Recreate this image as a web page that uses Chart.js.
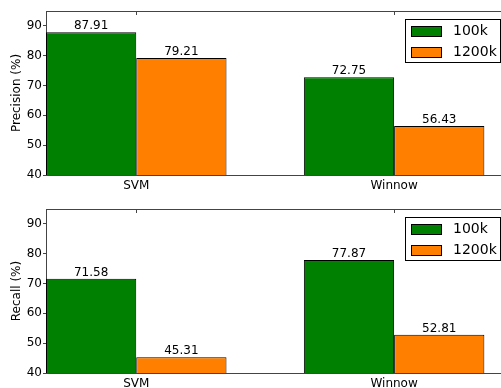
<!DOCTYPE html>
<html>
<head>
<meta charset="utf-8">
<title>Precision and recall: SVM vs Winnow</title>
<script src="https://cdn.jsdelivr.net/npm/chart.js@4/dist/chart.umd.min.js"></script>
<style>
  html, body { margin: 0; padding: 0; background: #fff; width: 501px; height: 388px; overflow: hidden; position: relative; }
  .panel { position: absolute; left: 0; width: 540px; height: 194px; }
  #panelPrecision { top: 0; }
  #panelRecall { top: 194px; }
</style>
</head>
<body>
<div class="panel" id="panelPrecision"><canvas id="precisionChart" width="540" height="194"></canvas></div>
<div class="panel" id="panelRecall"><canvas id="recallChart" width="540" height="194"></canvas></div>
<script>
// ---- data ----
const categories = ['SVM', 'Winnow'];
const seriesLabels = ['100k', '1200k'];
const precision100k = [87.91, 72.75];
const precision1200k = [79.21, 56.43];
const recall100k = [71.58, 77.87];
const recall1200k = [45.31, 52.81];
const yTickValues = [40, 50, 60, 70, 80, 90];
const yMin = 40;
const yMax = 95;

// ---- layout / style ----
const BAR_W = 0.35;            // width of one bar in category units
const X_MAX = 1.78;            // x range shown: [0, X_MAX]
const groupCenter = i => i + BAR_W;   // tick sits between the two bars of a group
const seriesColors = ['#008000', '#ff8000'];
const spineColor = '#444';

Chart.defaults.font.family = '"DejaVu Sans", "Liberation Sans", sans-serif';
Chart.defaults.font.size = 12;
Chart.defaults.color = '#000';

// Box frame: top and right spines plus inward ticks on the top spine.
const framePlugin = {
  id: 'frame',
  afterDraw(chart) {
    const { ctx, chartArea: { left, right, top, bottom }, scales: { x } } = chart;
    ctx.save();
    ctx.strokeStyle = spineColor;
    ctx.lineWidth = 1;
    ctx.beginPath();
    ctx.moveTo(left, top + 0.5);
    ctx.lineTo(right, top + 0.5);
    ctx.moveTo(right - 0.5, top);
    ctx.lineTo(right - 0.5, bottom);
    x.ticks.forEach(t => {
      const px = Math.round(x.getPixelForValue(t.value)) + 0.5;
      ctx.moveTo(px, top);
      ctx.lineTo(px, top + 4);
    });
    ctx.stroke();
    ctx.restore();
  }
};

// Value printed above each bar.
const valueLabelPlugin = {
  id: 'valueLabels',
  afterDatasetsDraw(chart) {
    const { ctx } = chart;
    ctx.save();
    ctx.font = '12px "DejaVu Sans", sans-serif';
    ctx.fillStyle = '#000';
    ctx.textAlign = 'center';
    ctx.textBaseline = 'alphabetic';
    chart.data.datasets.forEach((ds, di) => {
      const meta = chart.getDatasetMeta(di);
      meta.data.forEach((bar, i) => {
        ctx.fillText(ds.data[i].y.toFixed(2), bar.x, bar.y - 3);
      });
    });
    ctx.restore();
  }
};

// Framed legend in the upper-right corner of the plot area.
const boxLegendPlugin = {
  id: 'boxLegend',
  afterDraw(chart) {
    const { ctx, chartArea } = chart;
    const items = chart.data.datasets;
    const fontSize = 14;
    ctx.save();
    ctx.font = fontSize + 'px "DejaVu Sans", sans-serif';
    const textW = Math.max(...items.map(d => ctx.measureText(d.label).width));
    const padX = 6, patchW = 30, patchH = 10, gap = 12, rowH = 21, padTop = 11.5, padBottom = 10.5;
    const w = padX + patchW + gap + textW + 3;
    const h = padTop + rowH * (items.length - 1) + padBottom;
    const right = chartArea.right - 5;
    const x0 = Math.round(right - w);
    const y0 = Math.round(chartArea.top + 7.5);
    ctx.fillStyle = '#fff';
    ctx.fillRect(x0, y0, w, h);
    ctx.strokeStyle = '#000';
    ctx.lineWidth = 1;
    ctx.strokeRect(x0 + 0.5, y0 + 0.5, Math.round(w), Math.round(h));
    items.forEach((d, i) => {
      const cy = y0 + padTop + rowH * i;
      const px = x0 + padX;
      const py = Math.round(cy - patchH / 2);
      ctx.fillStyle = d.backgroundColor;
      ctx.fillRect(px, py, patchW, patchH);
      ctx.strokeStyle = '#000';
      ctx.strokeRect(px + 0.5, py + 0.5, patchW, patchH);
      ctx.fillStyle = '#000';
      ctx.textAlign = 'left';
      ctx.textBaseline = 'middle';
      ctx.fillText(d.label, px + patchW + gap, cy + 0.5);
    });
    ctx.restore();
  }
};

function makeDataset(label, values, color) {
  return {
    label,
    data: values.map((v, i) => ({ x: groupCenter(i), y: v })),
    backgroundColor: color,
    borderColor: '#000',
    borderWidth: 1,
    borderSkipped: false,
    categoryPercentage: 2 * BAR_W,
    barPercentage: 1
  };
}

function makeChart(canvasId, yTitle, valuesA, valuesB, padTop, padBottom) {
  return new Chart(document.getElementById(canvasId), {
    type: 'bar',
    data: {
      datasets: [
        makeDataset(seriesLabels[0], valuesA, seriesColors[0]),
        makeDataset(seriesLabels[1], valuesB, seriesColors[1])
      ]
    },
    options: {
      responsive: false,
      animation: false,
      devicePixelRatio: 1,
      layout: { padding: { top: padTop, bottom: padBottom, left: 0, right: 35 } },
      plugins: { legend: { display: false }, tooltip: { enabled: false } },
      scales: {
        x: {
          type: 'linear',
          min: 0,
          max: X_MAX,
          offset: false,
          afterBuildTicks: s => { s.ticks = categories.map((c, i) => ({ value: groupCenter(i) })); },
          afterFit: s => { s.height = 15; },
          ticks: {
            callback: v => categories[Math.round(v - BAR_W)],
            padding: 4,
            maxRotation: 0,
            autoSkip: false,
            color: '#000'
          },
          grid: { display: false, drawTicks: false },
          border: { display: true, color: spineColor, width: 1 }
        },
        y: {
          min: yMin,
          max: yMax,
          afterBuildTicks: s => { s.ticks = yTickValues.map(v => ({ value: v })); },
          afterFit: s => { s.width = 46; },
          ticks: { padding: 1, color: '#000' },
          grid: { drawOnChartArea: false, drawTicks: true, tickLength: 3, color: spineColor },
          border: { display: true, color: spineColor, width: 1 },
          title: { display: true, text: yTitle, color: '#000', font: { size: 12 }, padding: { top: 10, bottom: 0 } }
        }
      }
    },
    plugins: [framePlugin, valueLabelPlugin, boxLegendPlugin]
  });
}

makeChart('precisionChart', 'Precision (%)', precision100k, precision1200k, 11, 4);
makeChart('recallChart', 'Recall (%)', recall100k, recall1200k, 15, 0);
</script>
</body>
</html>
